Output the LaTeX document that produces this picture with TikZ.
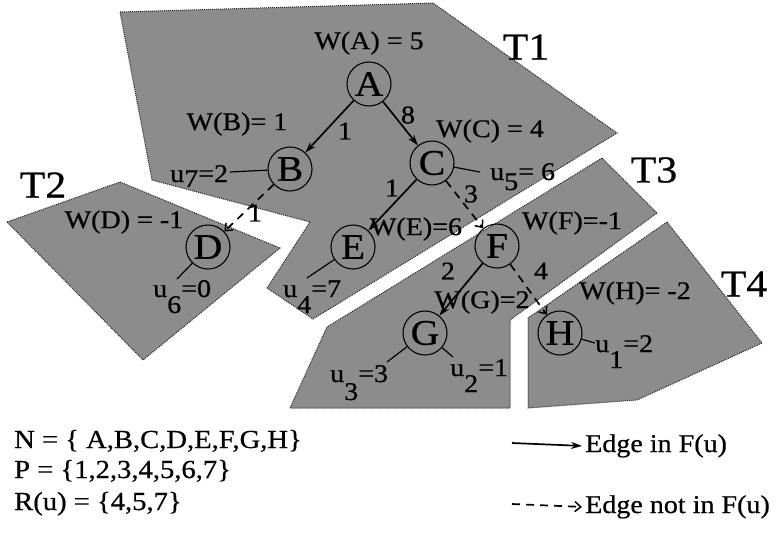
\documentclass[tikz,border=0pt]{standalone}
\usepackage{fontspec}
\setmainfont{Liberation Serif}[FakeStretch=1.1, FakeBold=0.6]
\usetikzlibrary{arrows.meta,positioning}

\begin{document}
\begin{tikzpicture}[x=1pt, y=-1pt,
    region/.style={fill=black!45, draw=black!85, densely dotted, line width=1pt},
    vtx/.style={circle, draw, line width=1.1pt, minimum size=44pt, inner sep=0pt,
                font=\fontsize{36}{36}\selectfont},
    lbl/.style={font=\fontsize{25.5}{26}\selectfont, inner sep=0pt},
    tlbl/.style={font=\fontsize{38}{38}\selectfont, inner sep=0pt},
    fedge/.style={-{Stealth[length=11pt,width=7pt]}, line width=1.7pt},
    nedge/.style={-{Straight Barb[length=6pt,width=10pt,line width=1.5pt]}, line width=1.7pt,
                  dash pattern=on 8pt off 6pt},
    ulink/.style={line width=1.2pt}
]
    \useasboundingbox (0,0) rectangle (778,539);

    % the four parts
    \filldraw[region] (120,12) -- (433,3) -- (617,133) -- (313,319) -- (267,288)
        -- (310,222) -- (152,180) -- cycle;
    \filldraw[region] (7,222) -- (120,182) -- (280,248) -- (143,360) -- cycle;
    \filldraw[region] (602,158) -- (657,213) -- (510,320) -- (510,408) -- (290,408)
        -- (327,327) -- cycle;
    \filldraw[region] (667,222) -- (762,343) -- (637,400) -- (528,408) -- (528,318) -- cycle;

    \node[tlbl] (T1) at (526,47)  {T1};
    \node[tlbl] (T2) at (43,185)  {T2};
    \node[tlbl] (T3) at (654,170) {T3};
    \node[tlbl] (T4) at (744,284) {T4};

    % vertices
    \node[vtx] (A) at (369,84)  {A};
    \node[vtx] (B) at (290,169) {B};
    \node[vtx] (C) at (432,163) {C};
    \node[vtx] (D) at (208,247) {D};
    \node[vtx] (E) at (353,247) {E};
    \node[vtx] (F) at (497,246) {F};
    \node[vtx] (G) at (425,333) {G};
    \node[vtx] (H) at (560,333) {H};

    \node[lbl] (wA) at (369,43)  {W(A) = 5};
    \node[lbl] (wB) at (237,124) {W(B)= 1};
    \node[lbl] (wC) at (490,131) {W(C) = 4};
    \node[lbl] (wD) at (124,222) {W(D) = -1};
    \node[lbl] (wE) at (416,229) {W(E)=6};
    \node[lbl] (wF) at (572,223) {W(F)=-1};
    \node[lbl] (wG) at (482,302) {W(G)=2};
    \node[lbl] (wH) at (635,293) {W(H)= -2};

    % edges
    \draw[fedge] (A) -- (B);
    \draw[fedge] (A) -- (C);
    \draw[fedge] (C) -- (E);
    \draw[nedge] (C) -- (F);
    \draw[nedge] (B) -- (D);
    \draw[fedge] (F) -- (G);
    \draw[nedge] (F) -- (H);

    \node[lbl] (lAB) at (345,131) {1};
    \node[lbl] (lAC) at (408,115) {8};
    \node[lbl] (lCE) at (392,188) {1};
    \node[lbl] (lCF) at (471,194) {3};
    \node[lbl] (lBD) at (255,213) {1};
    \node[lbl] (lFG) at (448,271) {2};
    \node[lbl] (lFH) at (541,271) {4};

    % u labels
    \node[lbl, anchor=base west] (u7) at (170,182) {u\raisebox{-5pt}{7}=2};
    \node[lbl, anchor=base west] (u5) at (490,180) {u\raisebox{-10pt}{5}= 6};
    \node[lbl, anchor=base west] (u6) at (153,297) {u\raisebox{-16pt}{6}=0};
    \node[lbl, anchor=base west] (u4) at (283,297) {u\raisebox{-16pt}{4}=7};
    \node[lbl, anchor=base west] (u3) at (330,382) {u\raisebox{-18pt}{3}=3};
    \node[lbl, anchor=base west] (u2) at (450,376) {u\raisebox{-16pt}{2}=1};
    \node[lbl, anchor=base west] (u1) at (595,352) {u\raisebox{-16pt}{1}=2};

    \coordinate (u7e) at (230,172);
    \coordinate (u5e) at (480,172);
    \coordinate (u6e) at (177,279);
    \coordinate (u4e) at (307,278);
    \coordinate (u3e) at (387,362);
    \coordinate (u2e) at (453,357);
    \coordinate (u1e) at (595,343);
    \draw[ulink] (B) -- (u7e);
    \draw[ulink] (C) -- (u5e);
    \draw[ulink] (D) -- (u6e);
    \draw[ulink] (E) -- (u4e);
    \draw[ulink] (G) -- (u3e);
    \draw[ulink] (G) -- (u2e);
    \draw[ulink] (H) -- (u1e);

    % sets
    \node[lbl, font=\fontsize{26}{26}\selectfont, anchor=base west] (setN) at (14,448)
        {N = \{ A,B,C,D,E,F,G,H\}};
    \node[lbl, font=\fontsize{26}{26}\selectfont, anchor=base west] (setP) at (14,478)
        {P = \{1,2,3,4,5,6,7\}};
    \node[lbl, font=\fontsize{26}{26}\selectfont, anchor=base west] (setR) at (14,510)
        {R(u) = \{4,5,7\}};

    % legend
    \coordinate (ls1) at (512,443);
    \coordinate (ls2) at (512,504);
    \node[lbl, anchor=base west] (leg1) at (585,452) {Edge in F(u)};
    \node[lbl, anchor=base west] (leg2) at (585,513) {Edge not in F(u)};
    \draw[fedge] (ls1) -- (leg1.west -| 582,0);
    \draw[nedge] (ls2) -- (leg2.west -| 582,0);
\end{tikzpicture}
\end{document}
